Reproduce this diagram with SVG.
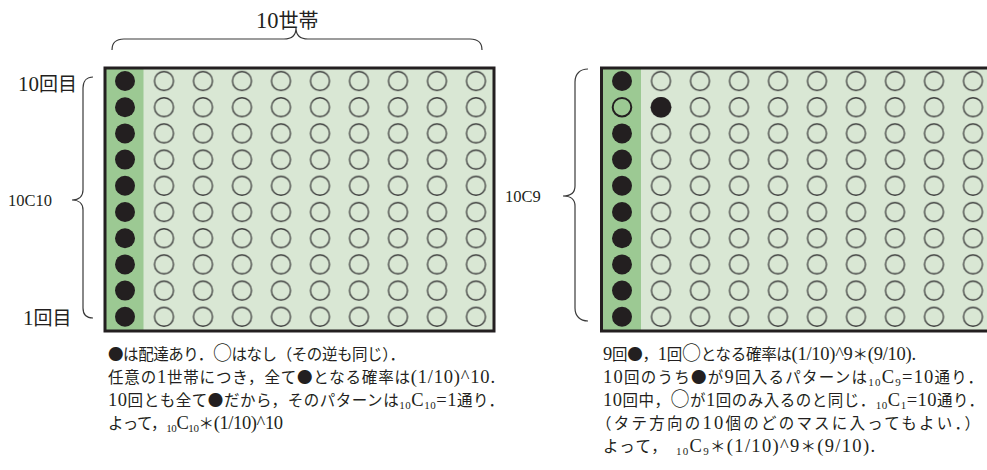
<svg xmlns="http://www.w3.org/2000/svg" width="987" height="470" viewBox="0 0 987 470">
<style>
.bg{fill:#d9e7d4}
.dk{fill:#9cc993}
.frame{fill:none;stroke:#231f20;stroke-width:3}
.f{fill:#231f20}
.h{fill:none;stroke:#3a3a3a;stroke-width:1.3}
.brace{fill:none;stroke:#3a3a3a;stroke-width:1.2}
.t{font-family:"Noto Sans CJK JP","Liberation Serif",serif;font-size:15.5px;fill:#231f20}
.l{font-family:"Liberation Serif","Noto Sans CJK JP",serif;font-size:18.5px}
.s{font-family:"Liberation Serif","Noto Sans CJK JP",serif;font-size:11px}
.o{font-size:19px}
.lab{font-family:"Liberation Serif","Noto Sans CJK JP",serif;font-size:16.5px;fill:#231f20}
.big{font-family:"Noto Sans CJK JP","Liberation Serif",serif;font-size:19px;fill:#231f20}
.big2{font-family:"Noto Sans CJK JP","Liberation Serif",serif;font-size:20px;fill:#231f20}
.bigl{font-family:"Liberation Serif","Noto Sans CJK JP",serif;font-size:21px}
.bigl2{font-family:"Liberation Serif","Noto Sans CJK JP",serif;font-size:22.5px}
</style>
<defs>
<pattern id="hp" patternUnits="userSpaceOnUse" x="144.5" y="67.9" width="39" height="26.2">
<circle cx="19.5" cy="13.1" r="9.5" class="h"/>
</pattern>
<pattern id="hp2" patternUnits="userSpaceOnUse" x="641.5" y="67.9" width="39" height="26.2">
<circle cx="19.5" cy="13.1" r="9.5" class="h"/>
</pattern>
<circle id="fc" r="10" class="f"/>
</defs>

<g id="left-grid">
<rect class="bg" x="105" y="68" width="389" height="263"/>
<rect class="dk" x="105" y="68" width="38.5" height="263"/>
<rect fill="url(#hp)" x="144.5" y="67.9" width="351" height="262"/>
<use href="#fc" x="125" y="81"/>
<use href="#fc" x="125" y="107.2"/>
<use href="#fc" x="125" y="133.4"/>
<use href="#fc" x="125" y="159.6"/>
<use href="#fc" x="125" y="185.8"/>
<use href="#fc" x="125" y="212"/>
<use href="#fc" x="125" y="238.2"/>
<use href="#fc" x="125" y="264.4"/>
<use href="#fc" x="125" y="290.6"/>
<use href="#fc" x="125" y="316.8"/>
<rect class="frame" x="105" y="68" width="389" height="263"/>
</g>

<g id="right-grid">
<rect class="bg" x="601.5" y="68" width="400" height="263"/>
<rect class="dk" x="601.5" y="68" width="39.5" height="263"/>
<rect fill="url(#hp2)" x="641.5" y="67.9" width="351" height="262"/>
<use href="#fc" x="622" y="81"/>
<circle cx="622" cy="107.2" r="9.3" fill="none" stroke="#231f20" stroke-width="2"/>
<circle cx="661" cy="107.2" r="10.3" class="f"/>
<use href="#fc" x="622" y="133.4"/>
<use href="#fc" x="622" y="159.6"/>
<use href="#fc" x="622" y="185.8"/>
<use href="#fc" x="622" y="212"/>
<use href="#fc" x="622" y="238.2"/>
<use href="#fc" x="622" y="264.4"/>
<use href="#fc" x="622" y="290.6"/>
<use href="#fc" x="622" y="316.8"/>
<rect class="frame" x="601.5" y="68" width="400" height="263"/>
</g>

<g id="braces">
<path class="brace" d="M112,50 C112,43 116,39 124,39 L284,39 C292,39 296,35 296,28 C296,35 300,39 308,39 L470,39 C478,39 482,43 482,50"/>
<path class="brace" d="M93,77 C87,77 83,81 83,88 L83,190 C83,196 79,200 72,200 C79,200 83,204 83,210 L83,308 C83,315 87,318 93,318"/>
<path class="brace" d="M588,69 C580,69 575,74 575,82 L575,186 C575,192 571,196 563,196 C571,196 575,200 575,206 L575,308 C575,316 580,321 588,321"/>
</g>

<g id="labels">
<text class="big2" x="256" y="28"><tspan class="bigl2">10</tspan>世帯</text>
<text class="big" x="18" y="91"><tspan class="bigl">10</tspan>回目</text>
<text class="big" x="23" y="325"><tspan class="bigl">1</tspan>回目</text>
<text class="lab" x="8" y="206">10C10</text>
<text class="lab" x="505" y="202">10C9</text>
</g>

<g id="left-text">
<text class="t" x="108" y="360" textLength="297" lengthAdjust="spacing">●は配達あり．<tspan class="o">○</tspan>はなし（その逆も同じ）．</text>
<text class="t" x="108" y="383" textLength="387" lengthAdjust="spacing">任意の<tspan class="l">1</tspan>世帯につき，全て●となる確率は<tspan class="l">(1/10)^10.</tspan></text>
<text class="t" x="108" y="406" textLength="396" lengthAdjust="spacing"><tspan class="l">10</tspan>回とも全て●だから，そのパターンは<tspan class="s" dy="3">10</tspan><tspan class="l" dy="-3">C</tspan><tspan class="s" dy="3">10</tspan><tspan class="l" dy="-3">=1</tspan>通り．</text>
<text class="t" x="108" y="429" textLength="175" lengthAdjust="spacing">よって，<tspan class="s" dy="3">10</tspan><tspan class="l" dy="-3">C</tspan><tspan class="s" dy="3">10</tspan><tspan dy="-3">＊</tspan><tspan class="l">(1/10)^10</tspan></text>
</g>

<g id="right-text">
<text class="t" x="603" y="360" textLength="313" lengthAdjust="spacing"><tspan class="l">9</tspan>回●，<tspan class="l">1</tspan>回<tspan class="o">○</tspan>となる確率は<tspan class="l">(1/10)^9</tspan>＊<tspan class="l">(9/10).</tspan></text>
<text class="t" x="603" y="383" textLength="380" lengthAdjust="spacing"><tspan class="l">10</tspan>回のうち●が<tspan class="l">9</tspan>回入るパターンは<tspan class="s" dy="3">10</tspan><tspan class="l" dy="-3">C</tspan><tspan class="s" dy="3">9</tspan><tspan class="l" dy="-3">=10</tspan>通り．</text>
<text class="t" x="603" y="406" textLength="381" lengthAdjust="spacing"><tspan class="l">10</tspan>回中，<tspan class="o">○</tspan>が<tspan class="l">1</tspan>回のみ入るのと同じ．<tspan class="s" dy="3">10</tspan><tspan class="l" dy="-3">C</tspan><tspan class="s" dy="3">1</tspan><tspan class="l" dy="-3">=10</tspan>通り．</text>
<text class="t" x="596" y="429" textLength="384" lengthAdjust="spacing">（タテ方向の<tspan class="l">10</tspan>個のどのマスに入ってもよい．）</text>
<text class="t" x="603" y="452" textLength="272" lengthAdjust="spacing">よって，<tspan class="s" dx="8" dy="3">10</tspan><tspan class="l" dy="-3">C</tspan><tspan class="s" dy="3">9</tspan><tspan dy="-3">＊</tspan><tspan class="l">(1/10)^9</tspan>＊<tspan class="l">(9/10).</tspan></text>
</g>
</svg>
